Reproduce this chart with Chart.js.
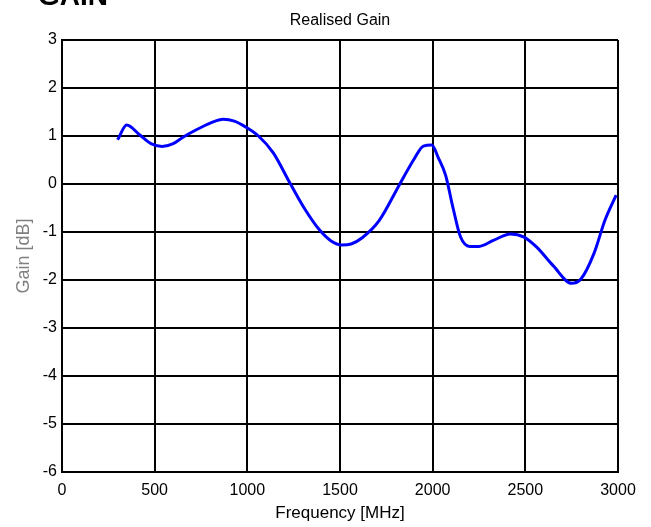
<!DOCTYPE html>
<html>
<head>
<meta charset="utf-8">
<script src="https://cdn.jsdelivr.net/npm/chart.js@4.4.1/dist/chart.umd.min.js"></script>
<style>
  html, body { margin: 0; padding: 0; background: #fff; }
  #wrap { width: 651px; height: 527px; }
</style>
</head>
<body>
<div id="wrap"><canvas id="gainChart" width="651" height="527"></canvas></div>
<script>
// Realised gain vs frequency
var freqMHz = [300, 349, 420, 480, 540, 600, 655, 720, 800, 870, 930, 990, 1060, 1140, 1230,
               1310, 1390, 1450, 1510, 1560, 1620, 1710, 1820, 1900, 1950, 1995, 2030, 2070,
               2110, 2150, 2200, 2250, 2330, 2420, 2490, 2560, 2650, 2750, 2800, 2870, 2930, 2990];
var gainDb = [0.92, 1.23, 1.02, 0.84, 0.78, 0.84, 0.98, 1.12, 1.27, 1.35, 1.31, 1.19, 1.00, 0.65, 0.02,
              -0.52, -0.96, -1.18, -1.27, -1.25, -1.12, -0.77, -0.02, 0.52, 0.79, 0.81, 0.55, 0.18,
              -0.50, -1.10, -1.30, -1.30, -1.17, -1.04, -1.10, -1.31, -1.70, -2.07, -1.98, -1.45, -0.75, -0.23];
var xTicks = [0, 500, 1000, 1500, 2000, 2500, 3000];
var yTicks = [-6, -5, -4, -3, -2, -1, 0, 1, 2, 3];

var fontFam = '"Liberation Sans", Arial, Helvetica, sans-serif';

// big heading cut off at the top, and the plot title centred over the axes
var headingPlugin = {
    id: 'heading',
    afterDraw: function(chart) {
        var c = chart.ctx;
        var area = chart.chartArea;
        c.save();
        c.fillStyle = '#000';
        c.textBaseline = 'alphabetic';
        c.textAlign = 'left';
        c.font = 'bold 28px ' + fontFam;
        c.fillText('GAIN', 38, 5);
        c.textAlign = 'center';
        c.textBaseline = 'middle';
        c.font = '16px ' + fontFam;
        c.fillText('Realised Gain', (area.left + area.right) / 2, 21);
        c.restore();
    }
};

var ctx = document.getElementById('gainChart').getContext('2d');
var gainChart = new Chart(ctx, {
    type: 'line',
    data: {
        datasets: [{
            data: freqMHz.map(function(f, i) { return { x: f, y: gainDb[i] }; }),
            borderColor: '#0000ff',
            borderWidth: 3,
            pointRadius: 0,
            fill: false,
            cubicInterpolationMode: 'monotone'
        }]
    },
    options: {
        responsive: false,
        animation: false,
        layout: { padding: { left: 0, right: 33, top: 40, bottom: 0 } },
        plugins: {
            legend: { display: false },
            tooltip: { enabled: false },
            title: { display: false }
        },
        scales: {
            x: {
                type: 'linear',
                min: 0, max: 3000,
                afterBuildTicks: function(s) { s.ticks = xTicks.map(function(v) { return { value: v }; }); },
                afterFit: function(s) { s.height = 55; },
                ticks: {
                    color: '#000', font: { family: fontFam, size: 16 }, padding: 9, maxRotation: 0,
                    callback: function(v) { return String(v); }
                },
                grid: { color: '#000', lineWidth: 2, drawTicks: false },
                border: { color: '#000', width: 2 },
                title: {
                    display: true,
                    text: 'Frequency [MHz]',
                    color: '#000',
                    font: { family: fontFam, size: 17 },
                    padding: { top: 0, bottom: 3 }
                }
            },
            y: {
                min: -6, max: 3,
                afterBuildTicks: function(s) { s.ticks = yTicks.map(function(v) { return { value: v }; }); },
                afterFit: function(s) { s.width = 62; },
                ticks: { color: '#000', font: { family: fontFam, size: 16 }, padding: 5 },
                grid: { color: '#000', lineWidth: 2, drawTicks: false },
                border: { color: '#000', width: 2 },
                title: {
                    display: true,
                    text: 'Gain [dB]',
                    color: '#808080',
                    font: { family: fontFam, size: 18 },
                    padding: { top: 13, bottom: 0 }
                }
            }
        }
    },
    plugins: [headingPlugin]
});
</script>
</body>
</html>
